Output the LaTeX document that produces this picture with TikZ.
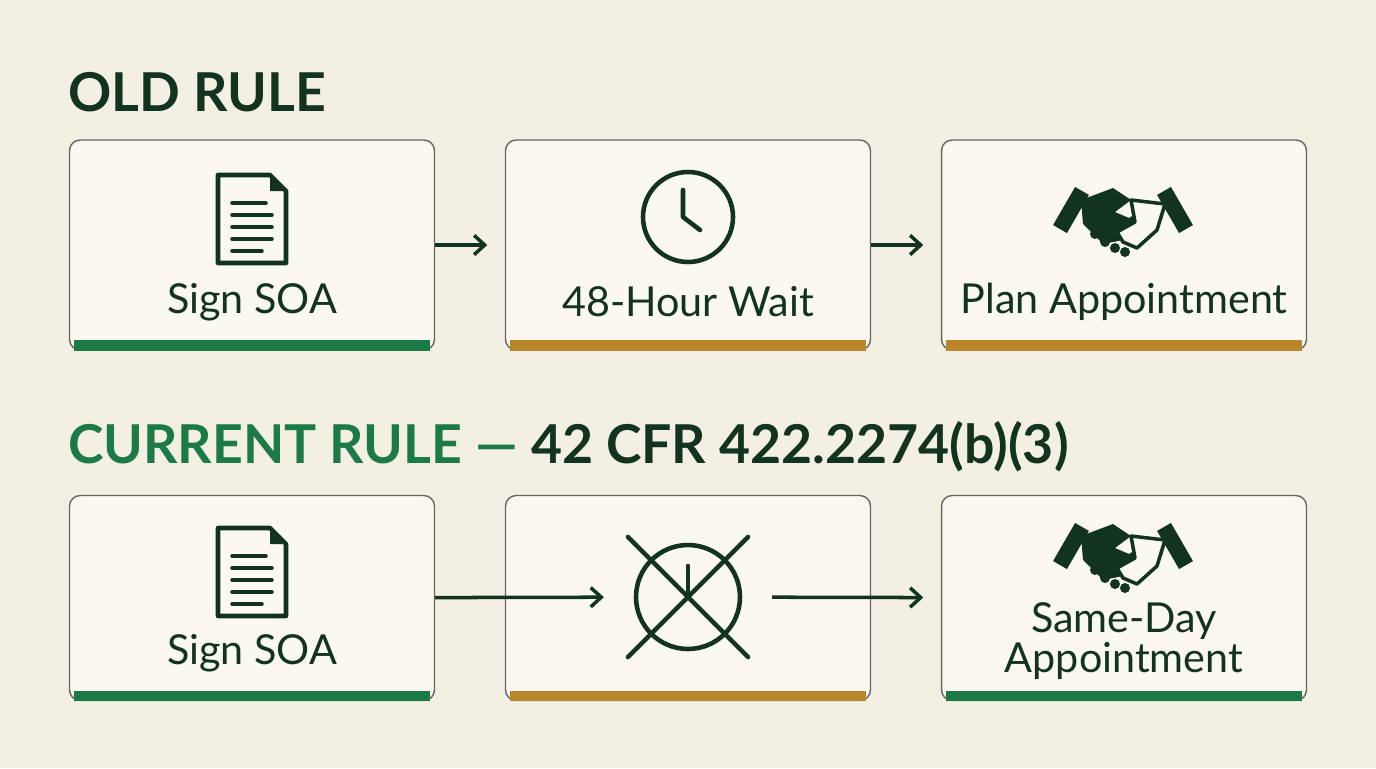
\documentclass[tikz,border=0pt]{standalone}
\usepackage{fontspec}
\setmainfont{Lato}
\usetikzlibrary{arrows.meta,positioning}
\definecolor{bgcream}{HTML}{F3F0E3}
\definecolor{boxfill}{HTML}{FAF8F1}
\definecolor{darkgreen}{HTML}{12331F}
\definecolor{rulegreen}{HTML}{1B7A45}
\definecolor{gold}{HTML}{B8862B}
\tikzset{
  stepbox/.style={draw=black!60, line width=0.8pt, fill=boxfill, rounded corners=6pt,
    minimum width=7.3cm, minimum height=4.2cm},
  steptext/.style={text=darkgreen, font=\fontsize{23.5}{27}\selectfont},
  title/.style={font=\fontsize{30.5}{34}\selectfont\bfseries, anchor=west},
  flow/.style={-{Straight Barb[length=6pt,width=11pt]}, line width=2pt, draw=darkgreen},
  icon/.style={draw=darkgreen, line width=2.6pt, line join=round, line cap=round}
}
\newcommand{\docicon}[1]{%
  \begin{scope}[shift={(#1)}]
    \draw[icon] (-34,-42) -- (18,-42) -- (34,-26) -- (34,46) -- (-34,46) -- cycle;
    \fill[darkgreen] (18,-42) -- (34,-26) -- (18,-26) -- cycle;
    \foreach \yy/\xx in {-14/14, -2/20, 10/20, 22/20, 34/10}
      \draw[icon, line width=2pt] (-20,\yy) -- (\xx,\yy);
  \end{scope}}
\newcommand{\shakeicon}[1]{%
  \begin{scope}[shift={(#1)}]
    \fill[darkgreen, rotate around={-30:(-52,-4)}] (-60,-26) rectangle (-44,18);
    \fill[darkgreen, rotate around={30:(52,-4)}] (44,-26) rectangle (60,18);
    \fill[darkgreen] (-42,-14) -- (-10,-26) -- (8,-14) -- (-8,-2) -- (6,4) -- (22,-6) -- (40,4) -- (20,22) -- (-20,30) -- (-40,10) -- cycle;
    \draw[icon, line width=2pt, fill=boxfill] (8,-14) -- (42,-10) -- (34,16) -- (14,34) -- (0,28) -- (-6,18) -- (12,8) -- cycle;
    \foreach \dx/\dy in {-28/20,-18/28,-8/34,2/38}
      \fill[darkgreen] (\dx,\dy) circle (5);
  \end{scope}}
\begin{document}
\begin{tikzpicture}[x=0.02cm, y=-0.02cm]
\fill[bgcream] (0,0) rectangle (1376,768);

% Old rule
\node[title, text=darkgreen] (oldtitle) at (62,92) {OLD RULE};
\node[stepbox] (sign1) at (252,245) {};
\node[stepbox] (wait1) at (688,245) {};
\node[stepbox] (plan1) at (1124,245) {};
\draw[rulegreen, line width=6pt] ([shift={(3pt,3pt)}]sign1.south west) -- ([shift={(-3pt,3pt)}]sign1.south east);
\draw[gold, line width=6pt] ([shift={(3pt,3pt)}]wait1.south west) -- ([shift={(-3pt,3pt)}]wait1.south east);
\draw[gold, line width=6pt] ([shift={(3pt,3pt)}]plan1.south west) -- ([shift={(-3pt,3pt)}]plan1.south east);
\docicon{252,217}
\draw[icon] (688,217) circle (45);
\draw[icon] (683,190) -- (683,217) -- (700,230);
\shakeicon{1123,214}
\node[steptext] at (252,302) {Sign SOA};
\node[steptext] at (688,302) {48-Hour Wait};
\node[steptext] at (1124,302) {Plan Appointment};
\draw[flow, shorten >=10pt] (sign1) -- (wait1);
\draw[flow, shorten >=10pt] (wait1) -- (plan1);

% Current rule
\node[title] (newtitle) at (62,447) {\textcolor{rulegreen}{CURRENT RULE —} \textcolor{darkgreen}{42 CFR 422.2274(b)(3)}};
\node[stepbox, minimum height=4.1cm] (sign2) at (252,598) {};
\node[stepbox, minimum height=4.1cm] (wait2) at (688,598) {};
\node[stepbox, minimum height=4.1cm] (plan2) at (1124,598) {};
\draw[rulegreen, line width=6pt] ([shift={(3pt,3pt)}]sign2.south west) -- ([shift={(-3pt,3pt)}]sign2.south east);
\draw[gold, line width=6pt] ([shift={(3pt,3pt)}]wait2.south west) -- ([shift={(-3pt,3pt)}]wait2.south east);
\draw[rulegreen, line width=6pt] ([shift={(3pt,3pt)}]plan2.south west) -- ([shift={(-3pt,3pt)}]plan2.south east);
\docicon{252,570}
\node[circle, icon, minimum size=2.08cm, inner sep=0pt] (nowait) at (688,597) {};
\draw[icon] (688,566) -- (688,597);
\draw[icon] (628,537) -- (748,657);
\draw[icon] (748,537) -- (628,657);
\shakeicon{1123,550}
\node[steptext] at (252,653) {Sign SOA};
\node[steptext, align=center, font=\fontsize{23.5}{23}\selectfont] at (1124,641) {Same-Day\\Appointment};
\draw[flow, shorten >=17pt] (sign2) -- (nowait);
\draw[flow, shorten <=17pt, shorten >=10pt] (nowait) -- (plan2);
\end{tikzpicture}
\end{document}
